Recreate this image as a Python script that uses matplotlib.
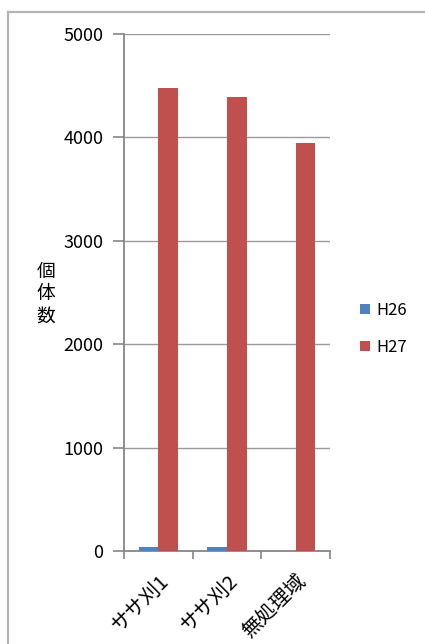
import matplotlib
matplotlib.use("Agg")
import matplotlib.pyplot as plt
from matplotlib.lines import Line2D
from matplotlib.patches import Patch
import numpy as np

plt.rcParams['font.family'] = ['Noto Sans CJK JP', 'DejaVu Sans']

categories = ["ササ刈1", "ササ刈2", "無処理域"]
h26 = [35, 35, 0]
h27 = [4480, 4390, 3950]
series_names = ["H26", "H27"]
colors = ["#4F81BD", "#C0504D"]
yticks = [0, 1000, 2000, 3000, 4000, 5000]

fig = plt.figure(figsize=(4.25, 6.44), dpi=100)
ax = fig.add_axes([0.2918, 0.1444, 0.4847, 0.8028])

x = np.arange(len(categories))
w = 0.285
ax.bar(x - w / 2, h26, width=w, color=colors[0], zorder=3)
ax.bar(x + w / 2, h27, width=w, color=colors[1], zorder=3)

ax.set_xlim(-0.5, len(categories) - 0.5)
ax.set_ylim(0, 5000)
ax.set_yticks(yticks)
ax.set_yticklabels([str(v) for v in yticks], fontsize=13)
ax.yaxis.grid(True, color="#9a9a9a", linewidth=1.0, zorder=0)
ax.set_axisbelow(True)

# category boundary ticks on x, labels centred under each group
ax.set_xticks(np.arange(len(categories) + 1) - 0.5)
ax.set_xticklabels([])
ax.set_xticks(x, minor=True)
ax.set_xticklabels(categories, minor=True, rotation=45, ha="right",
                   va="top", rotation_mode="anchor", fontsize=14.5)
ax.tick_params(axis="x", which="minor", length=0, pad=14)
ax.tick_params(axis="x", which="major", length=6, color="#868686", width=1.2)
ax.tick_params(axis="y", length=8, color="#868686", width=1.2, pad=7)

for side in ["top", "right"]:
    ax.spines[side].set_visible(False)
for side in ["left", "bottom"]:
    ax.spines[side].set_color("#868686")
    ax.spines[side].set_linewidth(1.3)

fig.text(46 / 425, 1 - 294 / 644, "個\n体\n数", ha="center", va="center",
         fontsize=13.5, linespacing=1.1)

handles = [Patch(facecolor=c) for c in colors]
fig.legend(handles, series_names, loc="center left",
           bbox_to_anchor=(345 / 425, 1 - 329 / 644), frameon=False,
           fontsize=12, handlelength=0.6, handleheight=0.6,
           handletextpad=0.4, labelspacing=1.2)

# outer chart-area border
fig.add_artist(Line2D([7.5 / 425, 7.5 / 425], [0, 1 - 12 / 644],
                      transform=fig.transFigure, color="#b4b4b4", linewidth=1.6))
fig.add_artist(Line2D([7.5 / 425, 1], [1 - 12 / 644, 1 - 12 / 644],
                      transform=fig.transFigure, color="#b4b4b4", linewidth=1.6))

fig.savefig("out.png", dpi=100, facecolor="white")
